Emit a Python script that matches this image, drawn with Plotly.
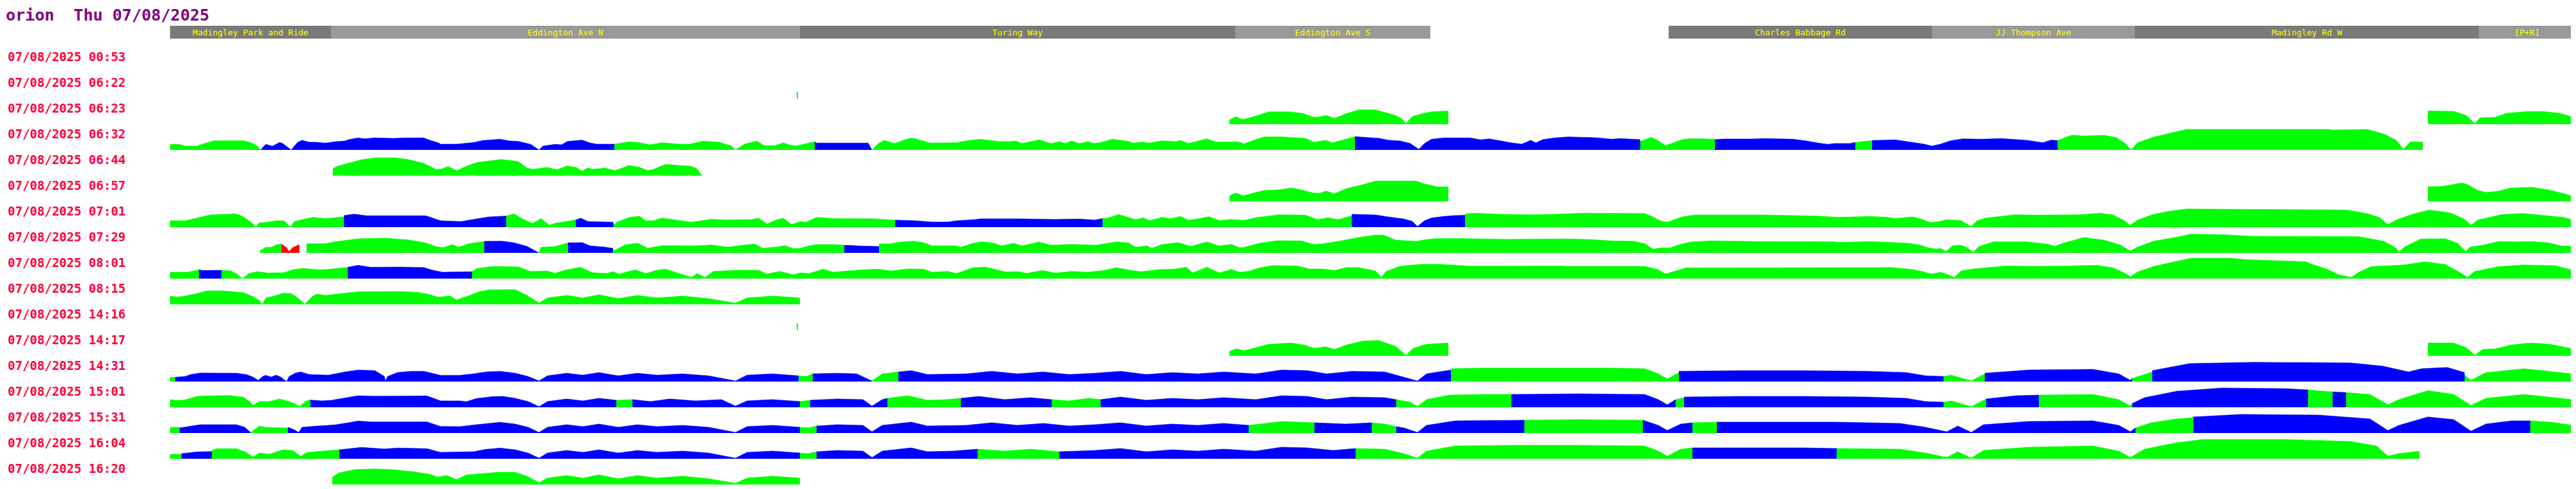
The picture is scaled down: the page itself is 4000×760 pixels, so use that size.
import plotly.graph_objects as go

# ---------------- data ----------------
TITLE = "orion  Thu 07/08/2025"
DATE = "07/08/2025"
TRIP_TIMES = ["00:53", "06:22", "06:23", "06:32", "06:44", "06:57", "07:01", "07:29",
              "08:01", "08:15", "14:16", "14:17", "14:31", "15:01", "15:31", "16:04", "16:20"]

SECTION_NAMES = ["Madingley Park and Ride", "Eddington Ave N", "Turing Way", "Eddington Ave S",
                 "Charles Babbage Rd", "JJ Thompson Ave", "Madingley Rd W", "[P+R]"]
SECTION_START = [264, 514, 1242, 1918, 2591, 3000, 3315, 3849]
SECTION_END = [514, 1242, 1918, 2221, 3000, 3315, 3849, 3999]
SECTION_SHADE = ["dark", "light", "dark", "light", "dark", "light", "dark", "light"]

# each trip: list of (status, [(route position, value), ...])
trip_0053 = [("R", [(3997, 33), (3999, 33)])]
trip_0622 = [("G", [(1237, 10), (1239, 10)]), ("G", [(3997, 20), (3999, 20)])]
trip_0623 = [
    ("G", [(1909, 6.7), (1919, 11.7), (1928, 7.7), (1932, 7.7), (1951, 13), (1970, 19.3), (2002, 19.3),
           (2024, 16.7), (2037, 11.3), (2046, 10.7), (2059, 13.7), (2072, 9), (2091, 16.7), (2110, 22.3),
           (2136, 22.3), (2167, 13.7), (2177, 8), (2183, 1), (2193, 12), (2212, 17.3), (2223, 19.3),
           (2242, 20.7), (2249, 20.7)]),
    ("G", [(3770, 20.7), (3810, 20), (3829, 14), (3839, 5), (3843, 1), (3851, 10), (3874, 10.7),
           (3893, 17.3), (3925, 19.7), (3950, 19.7), (3976, 16.7), (3995, 11)]),
]
trip_0632 = [
    ("G", [(264, 8.7), (278, 8.7), (288, 6), (306, 6), (311, 8), (332, 14.3), (378, 14.3), (388, 12),
           (398, 7), (405, 0)]),
    ("B", [(405, 0), (408, 4), (413, 8.7), (421, 6), (423, 5.7), (434, 11.7), (439, 10), (452, 0),
           (462, 11.7), (469, 15), (480, 12), (490, 12), (505, 10.7), (520, 12.7), (536, 14), (541, 16),
           (556, 18.7), (566, 17.3), (582, 18.7), (612, 18), (628, 18.7), (658, 18.7), (668, 14.7),
           (681, 11), (684, 9), (709, 9), (735, 11.5), (750, 14.7), (776, 16.7), (791, 14), (805, 13.3),
           (824, 8.7), (837, 0), (843, 6), (862, 8.7), (872, 8), (881, 13.3), (904, 15.3), (916, 11),
           (926, 9), (954, 9)]),
    ("G", [(954, 9), (977, 12.7), (993, 11.3), (1009, 8), (1028, 11.3), (1054, 9), (1070, 9), (1092, 13.7),
           (1117, 12), (1136, 6), (1142, 0), (1156, 9), (1175, 13.7), (1187, 6.7), (1203, 6.7), (1216, 11),
           (1226, 8), (1235, 6), (1248, 9), (1265, 12.7)]),
    ("B", [(1265, 12.7), (1268, 10.7), (1348, 10.7), (1354, 0)]),
    ("G", [(1354, 0), (1364, 10), (1373, 15), (1380, 13), (1389, 10), (1402, 14.7), (1415, 18.7),
           (1434, 14), (1444, 10.7), (1485, 11.3), (1504, 14.7), (1523, 16.7), (1549, 13.3), (1568, 13),
           (1578, 14), (1587, 10), (1613, 15.7), (1622, 13), (1632, 10), (1645, 13), (1654, 10), (1664, 14),
           (1676, 10), (1689, 12.7), (1699, 10), (1715, 13), (1727, 16.7), (1753, 13.3), (1759, 10.7),
           (1775, 12.3), (1785, 10.7), (1804, 14.3), (1826, 13), (1833, 15), (1845, 10), (1858, 13.3),
           (1874, 17.3), (1887, 12.7), (1896, 12.3), (1922, 12.7), (1932, 9.5), (1944, 14.3), (1963, 20.3),
           (1992, 20.3), (2027, 18), (2040, 12), (2059, 15), (2069, 11), (2085, 15.7), (2104, 20.7)]),
    ("B", [(2104, 20.7), (2142, 18), (2155, 15.3), (2174, 14), (2190, 10), (2203, 1), (2212, 10),
           (2223, 16.7), (2242, 18.7), (2283, 18.7), (2299, 15.7), (2312, 17.3), (2331, 14), (2347, 11),
           (2363, 9), (2377, 15), (2385, 11), (2395, 16), (2414, 18.7), (2436, 20.3), (2478, 19),
           (2503, 16.7), (2516, 17.7), (2547, 16)]),
    ("G", [(2547, 13.3), (2564, 19.7), (2574, 15), (2586, 6.7), (2612, 16), (2625, 17.7), (2663, 16.7)]),
    ("B", [(2663, 16), (2676, 17), (2720, 17), (2739, 17.7), (2784, 16.7), (2803, 14.3), (2822, 11),
           (2838, 8.7), (2848, 10), (2873, 10), (2881, 11.7)]),
    ("G", [(2881, 11.7), (2907, 14.7)]),
    ("B", [(2907, 14.7), (2943, 15.7), (2963, 12.7), (2988, 9), (3000, 6), (3013, 9), (3029, 14.3),
           (3048, 17.3), (3077, 16.7), (3108, 17.7), (3147, 15), (3172, 11.3), (3185, 15.3), (3195, 14.7)]),
    ("G", [(3195, 14.7), (3217, 23), (3236, 21.7), (3268, 22.7), (3287, 18.7), (3300, 10), (3309, 0),
           (3319, 11), (3344, 20), (3364, 25), (3395, 32), (3615, 32), (3622, 31), (3676, 32), (3702, 24.7),
           (3721, 15), (3732, 1), (3743, 12.7), (3762, 12)]),
]
trip_0644 = [
    ("G", [(517, 11.3), (524, 14.7), (543, 20), (562, 25), (582, 27.7), (614, 27.7), (633, 25.3), (658, 19.3),
           (677, 9.7), (684, 10), (696, 14.3), (709, 7.7), (725, 15), (741, 20.7), (779, 25.3), (805, 22),
           (818, 12), (827, 9.7), (849, 13), (865, 9.3), (881, 15.3), (894, 13), (904, 7), (913, 12.3),
           (920, 9.7), (939, 12), (955, 8), (977, 16), (993, 13), (1006, 8), (1015, 10), (1034, 17.7),
           (1050, 16.3), (1073, 14.7), (1082, 11), (1090, 0)]),
    ("R", [(3997, 18), (3999, 18)]),
]
trip_0657 = [
    ("G", [(1909, 8), (1916, 12.3), (1922, 12.3), (1930, 8.7), (1951, 14.3), (1963, 17), (1989, 18.3),
           (2005, 21), (2021, 18), (2040, 13), (2050, 13), (2059, 16.3), (2072, 12), (2091, 20), (2116, 26),
           (2136, 31.7), (2199, 31.7), (2210, 27.7), (2232, 22.7), (2249, 22.7)]),
    ("G", [(3770, 22.7), (3791, 23.3), (3823, 28.7), (3832, 26), (3848, 17), (3861, 14), (3880, 16),
           (3899, 21), (3931, 22), (3957, 18), (3982, 12), (3995, 8)]),
]
trip_0701 = [
    ("G", [(264, 10), (288, 10), (301, 13), (314, 16), (327, 19.3), (358, 20.3), (365, 21), (374, 18),
           (384, 12), (393, 5), (397, 0), (403, 7), (413, 7.3), (429, 10), (441, 10), (451, 0), (457, 8.7),
           (470, 12), (486, 15.3), (505, 13.3), (531, 15.7), (534, 16)]),
    ("B", [(534, 18), (550, 20.3), (569, 17.7), (601, 17.7), (661, 17.7), (684, 10), (716, 8.7), (741, 13),
           (760, 16), (786, 17.3)]),
    ("G", [(786, 17.3), (798, 20.7), (811, 13), (827, 5.7), (840, 13.3), (853, 3), (862, 6), (894, 11.3)]),
    ("B", [(894, 11.3), (902, 14), (913, 8.7), (926, 8.3), (952, 7.7), (953, 0)]),
    ("G", [(953, 3), (958, 7.7), (977, 15.3), (993, 17), (1003, 10), (1015, 10), (1028, 14.3), (1047, 11.3),
           (1073, 7.7), (1105, 12.3), (1130, 11.3), (1168, 12), (1178, 14), (1191, 5), (1207, 11.7),
           (1216, 14), (1229, 4), (1243, 8.7), (1252, 7.7), (1268, 15.3), (1294, 13.3), (1358, 13),
           (1390, 11)]),
    ("B", [(1390, 11), (1421, 10), (1447, 8), (1472, 8), (1485, 10), (1514, 11.7), (1523, 13), (1581, 13),
           (1638, 12), (1676, 12.7), (1699, 11), (1712, 13.3)]),
    ("G", [(1712, 13.3), (1721, 14.3), (1737, 19.7), (1753, 14.3), (1763, 11.7), (1775, 14.7), (1785, 10.3),
           (1804, 15.3), (1817, 13), (1833, 16.7), (1845, 10.7), (1861, 13), (1877, 16.3), (1893, 10.3),
           (1912, 12), (1932, 10.7), (1951, 15), (1986, 19.3), (2027, 18.7), (2046, 11.7), (2062, 14.7),
           (2078, 11.7), (2099, 17.7)]),
    ("B", [(2099, 20), (2136, 19), (2155, 16), (2180, 12.7), (2193, 9), (2201, 1), (2212, 10), (2223, 14.3),
           (2242, 16.7), (2258, 18), (2275, 18.5)]),
    ("G", [(2275, 20.7), (2293, 21.7), (2331, 20), (2376, 19.3), (2414, 20), (2459, 21.7), (2554, 21.3),
           (2567, 15.7), (2580, 9), (2589, 7.7), (2612, 16), (2631, 19), (2739, 19), (2822, 17.3),
           (2854, 15.3), (2905, 16.7), (2931, 15.3), (2943, 13.3), (2969, 16), (2982, 13), (2998, 7),
           (3013, 9), (3022, 11.7), (3045, 10.3), (3054, 5), (3061, 1), (3070, 10), (3083, 14), (3128, 19.3),
           (3159, 18.7), (3230, 19.3), (3261, 21.7), (3281, 19), (3297, 11), (3308, 3), (3319, 11),
           (3344, 20), (3370, 25), (3395, 28.3), (3542, 27.7), (3644, 26.7), (3676, 21), (3695, 15),
           (3708, 4), (3721, 11.3), (3746, 20), (3772, 26.7), (3804, 22.3), (3826, 13), (3837, 3),
           (3848, 11.3), (3886, 19.7), (3918, 21.3), (3950, 18.3), (3982, 15), (3995, 11)]),
]
trip_0729 = [
    ("G", [(404, 4), (413, 8.7), (422, 8.7), (429, 12.7), (437, 13.7)]),
    ("R", [(437, 13.7), (445, 8), (449, 2), (454, 8), (465, 13)]),
    ("G", [(476, 14.3), (505, 14.3), (518, 17), (543, 20.3), (556, 22), (598, 23), (633, 20.3), (658, 16.3),
           (677, 10), (687, 8), (703, 13), (712, 8.7), (728, 14.3), (752, 17.7)]),
    ("B", [(752, 18), (779, 18.3), (798, 15.7), (818, 10.3), (837, 0)]),
    ("G", [(837, 0), (840, 8.7), (862, 10), (882, 15.5)]),
    ("B", [(882, 15.7), (904, 16), (916, 11), (939, 9), (952, 7)]),
    ("G", [(952, 3), (971, 12.7), (990, 15), (1006, 7.3), (1028, 11.3), (1054, 11), (1079, 11), (1105, 12.3),
           (1130, 9), (1156, 12.3), (1172, 13.7), (1184, 7.3), (1203, 8.7), (1219, 11.3), (1232, 6.7),
           (1243, 7), (1252, 10), (1268, 13), (1294, 13), (1311, 12)]),
    ("B", [(1311, 11.7), (1319, 11.7), (1335, 10.7), (1365, 10)]),
    ("G", [(1365, 14), (1383, 14.3), (1396, 16.7), (1418, 18.3), (1434, 16), (1447, 11), (1485, 11),
           (1491, 8.7), (1511, 15), (1523, 17.3), (1543, 15.3), (1555, 11), (1574, 15), (1587, 11),
           (1613, 17), (1632, 12), (1664, 13.3), (1702, 12), (1734, 17.3), (1753, 15.3), (1763, 9),
           (1782, 11), (1788, 6.7), (1804, 13), (1830, 16), (1849, 10), (1874, 17), (1893, 10.7),
           (1912, 13.3), (1925, 8), (1932, 8.7), (1957, 15.3), (1983, 19), (2021, 18.7), (2040, 13),
           (2053, 14), (2078, 18), (2110, 24), (2136, 27.7), (2148, 27.7), (2167, 20), (2199, 18),
           (2210, 20), (2229, 22.3), (2274, 22.3), (2338, 21), (2433, 21.7), (2471, 20.7), (2503, 18.7),
           (2538, 18), (2554, 14.3), (2567, 5.7), (2577, 7.7), (2593, 7.7), (2605, 12), (2625, 17),
           (2656, 18.7), (2733, 17.7), (2848, 17.3), (2854, 16.3), (2905, 17.7), (2963, 15), (2982, 12),
           (2995, 7.7), (3007, 6), (3013, 7), (3022, 2), (3032, 11.3), (3045, 12), (3054, 8.3), (3064, 1),
           (3073, 10), (3096, 17.3), (3147, 17.3), (3179, 13.7), (3191, 10.3), (3204, 15.3), (3236, 24),
           (3268, 19.7), (3293, 12), (3308, 3), (3319, 9), (3344, 18.3), (3383, 25), (3402, 29.3),
           (3459, 28), (3497, 25.7), (3663, 25.3), (3702, 18), (3721, 7.3), (3725, 1), (3733, 8.7),
           (3759, 21.7), (3797, 22), (3816, 15), (3829, 2), (3835, 9), (3855, 12), (3880, 17.7),
           (3906, 17.3), (3931, 17.7), (3957, 15.7), (3976, 11), (3995, 10)]),
]
trip_0801 = [
    ("G", [(264, 10), (291, 10), (301, 12), (309, 13.7)]),
    ("B", [(309, 13.7), (314, 12.7), (344, 13)]),
    ("G", [(344, 13), (358, 12.3), (368, 7), (376, 0), (387, 8), (400, 11), (416, 8.7), (441, 9.3), (454, 13.7),
           (470, 16), (492, 14), (505, 14), (524, 16), (540, 17.5)]),
    ("B", [(540, 17.7), (556, 20.7), (575, 17.7), (620, 18), (658, 17.3), (671, 13.3), (687, 10), (709, 10),
           (733, 10.7)]),
    ("G", [(733, 10.7), (741, 16), (767, 19), (805, 18.3), (824, 11), (849, 12), (862, 8.3), (878, 13.3),
           (901, 17.7), (920, 9.3), (942, 8), (952, 11), (961, 7), (986, 13.7), (1003, 8), (1022, 13.7),
           (1034, 14.7), (1054, 8), (1070, 3), (1076, 3), (1082, 8), (1095, 2), (1108, 11.3), (1143, 13),
           (1178, 13), (1191, 7), (1210, 11.3), (1219, 9.3), (1232, 6), (1243, 9), (1256, 8), (1278, 14.7),
           (1294, 10), (1313, 11.7), (1338, 13.7), (1364, 14.7), (1383, 12), (1409, 15), (1434, 14.7),
           (1447, 10), (1472, 11.3), (1485, 8), (1511, 17), (1530, 18), (1543, 15), (1562, 10.3), (1581, 11),
           (1594, 8.3), (1619, 12.7), (1638, 8.7), (1664, 11.3), (1689, 10), (1715, 13), (1734, 17),
           (1753, 13.3), (1772, 10.7), (1798, 14), (1823, 14.7), (1842, 17.7), (1852, 9), (1874, 17.7),
           (1893, 9), (1912, 14.3), (1925, 10), (1938, 11.3), (1957, 17), (1976, 20.3), (2014, 19.7),
           (2034, 15), (2053, 15), (2072, 12.7), (2091, 17.3), (2110, 17.3), (2136, 11.7), (2145, 2),
           (2152, 11), (2174, 19.3), (2206, 22.3), (2236, 22.3), (2287, 19.3), (2338, 19.3), (2420, 19.7),
           (2433, 19), (2554, 19), (2574, 14.3), (2586, 7.3), (2618, 16.7), (2720, 17), (2873, 17.3),
           (2886, 17.7), (2937, 17.3), (2969, 14.3), (2988, 10.3), (3000, 7), (3013, 10), (3022, 7),
           (3035, 2), (3045, 12), (3064, 15), (3115, 19.7), (3153, 19), (3191, 19.3), (3255, 20.7),
           (3281, 17), (3300, 8), (3308, 3), (3319, 10.3), (3344, 19), (3383, 27.3), (3402, 31.7),
           (3466, 31.7), (3485, 29.7), (3580, 26.3), (3593, 21.3), (3612, 15.3), (3631, 6.3), (3651, 2),
           (3663, 10), (3682, 18.7), (3733, 21.3), (3765, 26.3), (3797, 22), (3816, 11.7), (3832, 2),
           (3842, 11), (3880, 18.7), (3918, 21.3), (3969, 20), (3995, 13)]),
]
trip_0815 = [
    ("G", [(264, 13), (275, 11.3), (286, 12.7), (306, 17), (321, 21), (347, 21), (378, 18.3), (393, 12),
           (403, 6), (407, 0), (413, 10), (426, 13), (439, 17.3), (452, 17), (464, 8.7), (473, 0), (485, 12.3),
           (492, 16), (505, 14), (531, 17), (556, 19.7), (622, 20), (648, 18.7), (668, 15), (679, 11.3),
           (699, 13), (709, 7), (724, 12), (745, 20), (760, 22.7), (800, 23), (818, 14), (837, 2), (850, 10),
           (880, 14), (905, 10), (930, 15), (960, 9), (990, 14), (1020, 10), (1060, 13), (1100, 9),
           (1142, 2), (1160, 10), (1200, 13), (1242, 10)]),
]
trip_1416 = [("G", [(1237, 10), (1239, 10)])]
trip_1417 = [
    ("G", [(1909, 7), (1920, 11), (1932, 8), (1951, 13), (1970, 18), (2005, 20), (2024, 17), (2040, 12),
           (2059, 14), (2072, 10), (2091, 17), (2116, 23), (2140, 24), (2167, 15), (2183, 1), (2195, 12),
           (2215, 18), (2249, 20)]),
    ("G", [(3770, 20), (3810, 20), (3829, 13), (3843, 1), (3855, 10), (3875, 11), (3900, 17), (3930, 20),
           (3960, 18), (3995, 11)]),
]
trip_1431 = [
    ("G", [(264, 6.7), (272, 6.7)]),
    ("B", [(272, 6.7), (288, 8), (296, 11), (311, 13.3), (367, 13), (383, 10.7), (393, 7), (401, 2), (408, 8),
           (413, 9.7), (421, 7), (429, 10), (436, 7), (445, 0), (449, 8), (459, 13.3), (467, 15), (480, 11),
           (510, 10), (536, 15), (556, 18), (582, 17), (597, 8), (598, 1), (602, 8), (617, 14), (638, 16),
           (658, 16), (684, 9.7), (714, 9.7), (735, 12), (755, 15), (776, 16), (800, 13), (820, 8), (837, 1),
           (850, 9), (880, 13), (905, 10), (930, 14), (960, 9), (990, 13), (1020, 10), (1060, 12), (1100, 9),
           (1142, 1), (1160, 10), (1200, 12), (1240, 9)]),
    ("G", [(1240, 9), (1252, 8), (1262, 12)]),
    ("B", [(1262, 12), (1300, 13), (1330, 12), (1354, 1)]),
    ("G", [(1354, 1), (1370, 12), (1395, 15)]),
    ("B", [(1395, 15), (1415, 17), (1440, 11), (1500, 12), (1540, 16), (1580, 12), (1620, 15), (1660, 11),
           (1700, 13), (1740, 16), (1780, 11), (1820, 14), (1860, 12), (1900, 15), (1950, 12), (1990, 18),
           (2030, 17), (2060, 12), (2100, 16), (2150, 15), (2201, 1), (2215, 12), (2253, 18)]),
    ("G", [(2253, 20), (2300, 21), (2400, 21), (2500, 21), (2554, 20), (2575, 12), (2589, 4), (2607, 14)]),
    ("B", [(2607, 16), (2700, 17), (2800, 17), (2900, 16), (2960, 14), (2990, 9), (3018, 8)]),
    ("G", [(3018, 8), (3030, 10), (3061, 1), (3082, 12)]),
    ("B", [(3082, 13), (3150, 18), (3250, 19), (3290, 12), (3308, 2), (3311, 5)]),
    ("G", [(3311, 5), (3342, 15)]),
    ("B", [(3342, 17), (3400, 28), (3500, 30), (3650, 29), (3700, 24), (3740, 15), (3760, 20), (3800, 22),
           (3827, 14)]),
    ("G", [(3827, 10), (3837, 2), (3860, 14), (3920, 20), (3995, 12)]),
]
trip_1501 = [
    ("G", [(264, 12), (275, 10.7), (286, 11.3), (306, 17), (327, 18), (357, 18.3), (378, 15.7), (388, 8.7),
           (393, 3), (403, 9), (418, 9), (434, 13), (449, 9), (459, 5), (465, 1), (474, 9), (482, 12)]),
    ("B", [(482, 11.3), (500, 10), (515, 11), (536, 14.3), (556, 18), (582, 17.3), (612, 17.7), (663, 17.7),
           (684, 10), (714, 10), (724, 8.7), (740, 13.7), (765, 16.7), (781, 17), (800, 14), (820, 9),
           (837, 1), (850, 9), (880, 13), (905, 10), (930, 14), (957, 11)]),
    ("G", [(957, 11), (982, 12)]),
    ("B", [(982, 12), (1010, 9), (1040, 13), (1080, 10), (1120, 12), (1142, 2), (1160, 10), (1200, 12),
           (1242, 9)]),
    ("G", [(1242, 9), (1258, 11)]),
    ("B", [(1258, 11), (1300, 13), (1340, 12), (1354, 2), (1370, 12), (1378, 14)]),
    ("G", [(1378, 14), (1410, 18), (1440, 11), (1470, 12), (1492, 14)]),
    ("B", [(1492, 14), (1520, 17), (1560, 12), (1600, 15), (1633, 12)]),
    ("G", [(1633, 12), (1660, 10), (1690, 14), (1709, 12)]),
    ("B", [(1709, 12), (1740, 16), (1780, 11), (1820, 14), (1860, 12), (1900, 15), (1950, 12), (1990, 18),
           (2030, 17), (2060, 12), (2100, 16), (2150, 15), (2168, 12)]),
    ("G", [(2168, 12), (2190, 8), (2201, 1), (2215, 12), (2250, 19), (2300, 20), (2347, 20)]),
    ("B", [(2347, 20), (2450, 21), (2554, 20), (2575, 12), (2589, 4), (2602, 12)]),
    ("G", [(2602, 12), (2615, 15)]),
    ("B", [(2615, 16), (2700, 17), (2800, 17), (2900, 16), (2960, 14), (2990, 9), (3018, 8)]),
    ("G", [(3018, 8), (3030, 10), (3061, 1), (3084, 13)]),
    ("B", [(3084, 13), (3130, 18), (3166, 19)]),
    ("G", [(3166, 19), (3250, 20), (3290, 12), (3308, 2), (3311, 6)]),
    ("B", [(3311, 6), (3330, 15), (3380, 25), (3450, 30), (3550, 29), (3584, 27)]),
    ("G", [(3584, 27), (3600, 26), (3622, 24)]),
    ("B", [(3622, 24), (3643, 23)]),
    ("G", [(3643, 23), (3680, 20), (3708, 4), (3725, 12), (3770, 26), (3810, 20), (3837, 3), (3860, 14),
           (3920, 20), (3995, 12)]),
]
trip_1531 = [
    ("G", [(264, 9), (279, 9)]),
    ("B", [(279, 8), (296, 10.7), (311, 13), (367, 13), (380, 9), (389, 1)]),
    ("G", [(389, 1), (403, 11), (413, 8.7), (444, 8), (447, 8)]),
    ("B", [(447, 9), (457, 5), (464, 1), (469, 9), (490, 10.7), (520, 12.7), (541, 16), (556, 18.7),
           (577, 17.3), (663, 17.3), (684, 10.3), (714, 10), (740, 13), (776, 16.7), (800, 14), (820, 9),
           (837, 1), (850, 9), (880, 13), (905, 10), (930, 14), (960, 9), (990, 13), (1020, 10), (1060, 12),
           (1100, 9), (1142, 1), (1160, 10), (1200, 12), (1242, 9)]),
    ("G", [(1242, 9), (1255, 8), (1268, 11)]),
    ("B", [(1268, 11), (1300, 13), (1340, 12), (1354, 2), (1370, 12), (1415, 17), (1440, 11), (1500, 12),
           (1540, 16), (1580, 12), (1620, 15), (1660, 11), (1700, 13), (1740, 16), (1780, 11), (1820, 14),
           (1860, 12), (1900, 15), (1939, 12)]),
    ("G", [(1939, 12), (1990, 18), (2041, 16)]),
    ("B", [(2041, 16), (2090, 14), (2130, 16)]),
    ("G", [(2130, 16), (2150, 14), (2168, 10)]),
    ("B", [(2168, 10), (2180, 8), (2201, 1), (2215, 12), (2260, 19), (2330, 20), (2367, 20)]),
    ("G", [(2367, 20), (2450, 21), (2551, 20)]),
    ("B", [(2551, 20), (2575, 12), (2589, 4), (2610, 14), (2628, 16)]),
    ("G", [(2628, 16), (2666, 17)]),
    ("B", [(2666, 17), (2750, 17), (2850, 17), (2950, 15), (2990, 9), (3023, 2), (3040, 11), (3061, 1),
           (3080, 13), (3150, 18), (3250, 19), (3290, 12), (3308, 2), (3316, 8)]),
    ("G", [(3316, 8), (3340, 16), (3380, 22), (3406, 24)]),
    ("B", [(3406, 25), (3480, 29), (3600, 28), (3680, 22), (3708, 4), (3725, 12), (3770, 25), (3810, 21),
           (3837, 3), (3860, 14), (3900, 19), (3929, 19)]),
    ("G", [(3929, 19), (3960, 17), (3995, 12)]),
]
trip_1604 = [
    ("G", [(264, 7), (282, 7)]),
    ("B", [(282, 8), (306, 10.7), (329, 11.3)]),
    ("G", [(329, 13), (337, 15.7), (367, 15.7), (380, 11), (393, 3), (403, 9), (418, 7), (439, 14), (454, 13),
           (467, 4), (477, 10), (527, 14)]),
    ("B", [(527, 14), (561, 17.7), (597, 15.3), (617, 16.7), (663, 15.7), (684, 10), (735, 11), (755, 14.7),
           (776, 16.7), (800, 14), (820, 9), (837, 1), (850, 9), (880, 13), (905, 10), (930, 14), (960, 9),
           (990, 13), (1020, 10), (1060, 12), (1100, 9), (1142, 1), (1160, 10), (1200, 12), (1242, 9)]),
    ("G", [(1242, 9), (1255, 8), (1268, 11)]),
    ("B", [(1268, 11), (1300, 13), (1340, 12), (1354, 2), (1370, 12), (1415, 17), (1440, 11), (1480, 12),
           (1518, 15)]),
    ("G", [(1518, 15), (1560, 12), (1600, 15), (1645, 11)]),
    ("B", [(1645, 11), (1700, 13), (1740, 16), (1780, 11), (1820, 14), (1860, 12), (1900, 15), (1950, 12),
           (1990, 18), (2030, 17), (2070, 13), (2105, 16)]),
    ("G", [(2105, 16), (2150, 15), (2180, 8), (2201, 1), (2215, 12), (2260, 20), (2350, 21), (2450, 21),
           (2554, 20), (2575, 12), (2589, 4), (2610, 15), (2628, 17)]),
    ("B", [(2628, 17), (2720, 17), (2800, 17), (2852, 16)]),
    ("G", [(2852, 16), (2950, 15), (2990, 9), (3023, 2), (3040, 11), (3061, 1), (3080, 13), (3150, 18),
           (3250, 20), (3290, 12), (3308, 2), (3330, 15), (3380, 25), (3420, 30), (3550, 30), (3650, 27),
           (3690, 20), (3708, 4), (3725, 8), (3757, 12)]),
]
trip_1620 = [
    ("G", [(516, 11.3), (526, 18), (551, 23.3), (582, 24.3), (612, 23), (643, 19.7), (668, 15.7), (679, 11.7),
           (694, 14), (709, 7.7), (724, 15), (745, 17), (776, 19.3), (800, 19), (818, 13), (837, 3), (850, 10),
           (880, 14), (905, 10), (930, 15), (960, 9), (990, 14), (1020, 10), (1060, 13), (1100, 9),
           (1142, 2), (1160, 10), (1200, 13), (1242, 10)]),
]

TRIPS = [trip_0053, trip_0622, trip_0623, trip_0632, trip_0644, trip_0657, trip_0701, trip_0729,
         trip_0801, trip_0815, trip_1416, trip_1417, trip_1431, trip_1501, trip_1531, trip_1604, trip_1620]

# ---------------- style / layout ----------------
STATUS_COLORS = {"G": "#00ff00", "B": "#0000ff", "R": "#ff0000"}
SHADE_COLORS = {"dark": "#7a7a7a", "light": "#999999"}
PAGE_W, PAGE_H = 4000, 760
BODY_MARGIN = 8              # default page margin around the plot div
W, H = PAGE_W - BODY_MARGIN, PAGE_H - BODY_MARGIN
ROW0_BASE = 113              # page px of first trip baseline
ROW_STEP = 40
LABEL_UP = 25


def py(page_y):
    """page pixel row -> paper fraction"""
    return 1 - (page_y - BODY_MARGIN) / H


def px(page_x):
    return max(0.0, (page_x - BODY_MARGIN) / W)


fig = go.Figure()
axes = {}

# header (route sections)
axes["yaxis"] = dict(domain=[py(60), py(40)], range=[0, 1], visible=False, fixedrange=True)
fig.add_trace(go.Bar(
    orientation="h",
    base=SECTION_START,
    x=[e - s for s, e in zip(SECTION_START, SECTION_END)],
    y=[0.5] * len(SECTION_NAMES),
    width=1,
    marker=dict(color=[SHADE_COLORS[s] for s in SECTION_SHADE], line=dict(width=0)),
    text=SECTION_NAMES,
    textposition="inside",
    insidetextanchor="middle",
    constraintext="none",
    textangle=0,
    textfont=dict(color="#ffff00", family="DejaVu Sans Mono", size=13),
    xaxis="x", yaxis="y", hoverinfo="skip", showlegend=False,
))

annotations = [dict(text="<b>" + TITLE + "</b>", xref="paper", yref="paper", x=px(5), y=1.0,
                    xanchor="left", yanchor="top", showarrow=False, borderpad=0,
                    font=dict(family="DejaVu Sans Mono", size=25, color="#800080"))]

for i, segs in enumerate(TRIPS):
    base = ROW0_BASE + ROW_STEP * i
    yname = "y%d" % (i + 2)
    axes["yaxis%d" % (i + 2)] = dict(domain=[py(base), py(base - ROW_STEP)],
                                     range=[0, ROW_STEP], visible=False, fixedrange=True)
    for status, pts in segs:
        col = STATUS_COLORS[status]
        fig.add_trace(go.Scatter(
            x=[p[0] for p in pts], y=[p[1] for p in pts], xaxis="x", yaxis=yname,
            mode="lines", fill="tozeroy", fillcolor=col, line=dict(color=col, width=0.6),
            hoverinfo="skip", showlegend=False))
    annotations.append(dict(text="<b>%s %s</b>" % (DATE, TRIP_TIMES[i]), xref="paper", yref="paper",
                            x=px(10), y=py(base - LABEL_UP), xanchor="left", yanchor="middle",
                            showarrow=False,
                            font=dict(family="DejaVu Sans Mono", size=19, color="#ff0040")))

fig.update_layout(
    width=W, height=H, margin=dict(l=0, r=0, t=0, b=0),
    paper_bgcolor="white", plot_bgcolor="white",
    xaxis=dict(domain=[0, 1], range=[BODY_MARGIN, PAGE_W], visible=False, fixedrange=True),
    bargap=0, annotations=annotations, showlegend=False,
    **axes,
)
fig.write_html("out.html")
